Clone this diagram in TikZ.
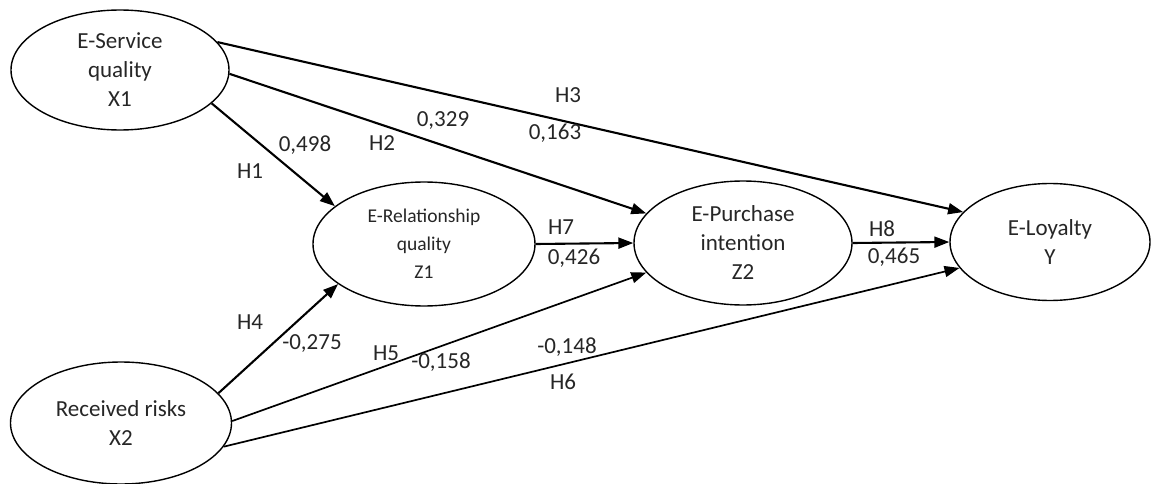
\documentclass[tikz,border=0pt]{standalone}
\usepackage{fontspec}
\setmainfont{Carlito}
\usetikzlibrary{shapes.geometric,arrows.meta}
\begin{document}
\begin{tikzpicture}[x=1pt,y=-1pt,
  ell/.style={draw=black,line width=1.4pt,ellipse,inner sep=0pt,align=center,text=black!85,
    font=\fontsize{23}{29}\selectfont},
  arr/.style={draw=black,line width=2.1pt,-{Triangle[length=15pt,width=11pt]}},
  arrthin/.style={draw=black,line width=1.7pt,-{Triangle[length=15pt,width=11pt]}},
  lbl/.style={inner sep=0pt,text=black!85,font=\fontsize{23}{27}\selectfont}]
\useasboundingbox (0,0) rectangle (1152,484);
\node[ell,minimum width=218pt,minimum height=120pt] (x1) at (120,70) {E-Service\\quality\\X1};
\node[ell,minimum width=222pt,minimum height=124pt,font=\fontsize{19.5}{28}\selectfont] (z1) at (424,244) {E-Relationship\\quality\\Z1};
\node[ell,minimum width=218pt,minimum height=124pt] (z2) at (743,243) {E-Purchase\\intention\\Z2};
\node[ell,minimum width=200pt,minimum height=117pt] (y) at (1050,242) {E-Loyalty\\Y};
\node[ell,minimum width=221pt,minimum height=122pt] (x2) at (121,423) {Received risks\\X2};
% connectors
\draw[arr] (x1.-20.3) -- (z1.157.4);
\draw[arr] (x1.-2.6) -- (z2.163.2);
\draw[arr] (x1.16.3) -- (y.161.8);
\draw[arr] (x2.17.9) -- (z1.205.3);
\draw[arrthin] (x2.1) -- (z2.197.4);
\draw[arrthin] (x2.-13.5) -- (y.196.6);
\draw[arr] (z1.east) -- (z2.west);
\draw[arr] (z2.east) -- (y.west);
% labels
\node[lbl] (h1) at (250,171) {H1};
\node[lbl] (c1) at (305,145) {0,498};
\node[lbl] (h2) at (382,143) {H2};
\node[lbl] (c2) at (443,121) {0,329};
\node[lbl] (h3) at (568,95) {H3};
\node[lbl] (c3) at (555,133) {0,163};
\node[lbl] (h7) at (561,227) {H7};
\node[lbl] (c7) at (574,258) {0,426};
\node[lbl] (h8) at (882,229) {H8};
\node[lbl] (c8) at (894,257) {0,465};
\node[lbl] (h4) at (250,322) {H4};
\node[lbl] (c4) at (312,344) {-0,275};
\node[lbl] (h5) at (386,353) {H5};
\node[lbl] (c5) at (441,362) {-0,158};
\node[lbl] (c6) at (567,347) {-0,148};
\node[lbl] (h6) at (563,382) {H6};
\end{tikzpicture}
\end{document}
